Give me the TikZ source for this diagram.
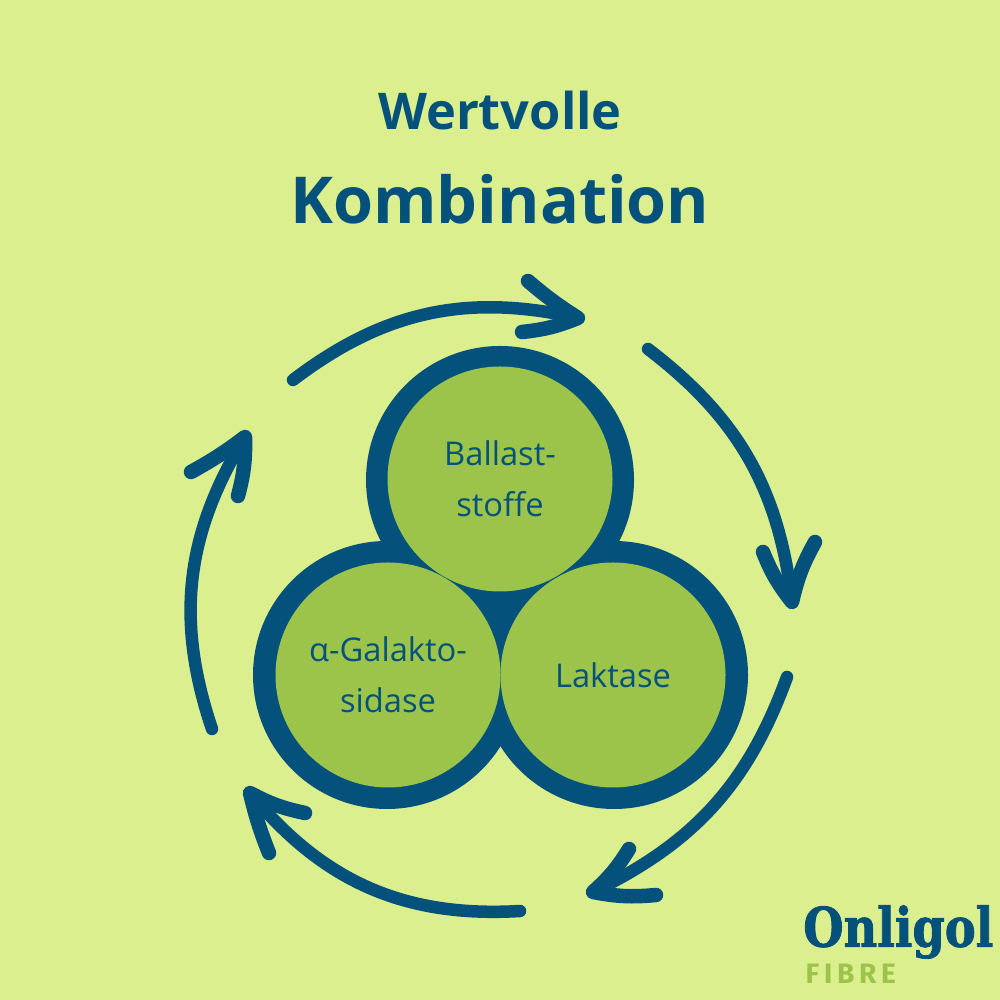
\documentclass[tikz,border=0pt]{standalone}
\usepackage{fontspec}
\setmainfont{Open Sans}
\newfontfamily\logofont[FakeStretch=0.85,BoldFeatures={FakeBold=1.5}]{DejaVu Serif}
\newfontfamily\fibrefont{Fira Sans}
\definecolor{paleback}{HTML}{DCEF8F}
\definecolor{deepblue}{HTML}{04527C}
\definecolor{leafgreen}{HTML}{9DC44A}
\tikzset{
  ringdisc/.style={circle,fill=deepblue,minimum size=2.68cm,inner sep=0pt},
  leafdisc/.style={circle,fill=leafgreen,minimum size=2.25cm,inner sep=0pt,align=center,
    text=deepblue,font=\fontsize{9.3}{14.4}\selectfont},
  roundarrow/.style={draw=deepblue,line width=0.125cm,line cap=round,line join=round},
  roundhead/.style={roundarrow,line width=0.145cm},
  titletext/.style={text=deepblue,font=\bfseries}
}
\begin{document}
\begin{tikzpicture}
\useasboundingbox (0,0) rectangle (10,10);
\fill [paleback] (0,0) rectangle (10,10);

% Drawing title
\node [titletext,font=\fontsize{14.4}{16}\selectfont\bfseries] (wertvolle) at (5.00,8.89) {Wertvolle};
\node [titletext,font=\fontsize{18.4}{24}\selectfont\bfseries] (kombination) at (5.00,8.01) {Kombination};

% Drawing blue rings
\node [ringdisc] (ringtop) at (5.00,5.20) {};
\node [ringdisc] (ringleft) at (3.87,3.25) {};
\node [ringdisc] (ringright) at (6.14,3.25) {};

% Drawing green circles
\node [leafdisc] (ballast) at (5.00,5.21) {Ballast-\\stoffe};
\node [leafdisc] (galakto) at (3.88,3.25) {α-Galakto-\\sidase};
\node [leafdisc] (laktase) at (6.13,3.25) {Laktase};

% Drawing arrow top
\coordinate (atail) at (2.93,6.20);
\coordinate (atip) at (5.78,6.82);
\coordinate (abarbone) at (5.28,7.19);
\coordinate (abarbtwo) at (5.22,6.68);
\draw [roundarrow] (atail) to [bend left=25] (atip);
\draw [roundhead] (abarbone) to [bend right=4] (atip) to [bend left=8] (abarbtwo);

% Drawing arrow right
\coordinate (btail) at (6.48,6.51);
\coordinate (btip) at (7.92,3.98);
\coordinate (bbarbone) at (8.15,4.58);
\coordinate (bbarbtwo) at (7.63,4.48);
\draw [roundarrow] (btail) to [bend left=23] (btip);
\draw [roundhead] (bbarbone) to [bend right=8] (btip) to [bend left=8] (bbarbtwo);

% Drawing arrow bottom right
\coordinate (ctail) at (7.87,3.23);
\coordinate (ctip) at (5.93,1.08);
\coordinate (cbarbone) at (6.29,1.51);
\coordinate (cbarbtwo) at (6.56,1.05);
\draw [roundarrow] (ctail) to [bend left=22] (ctip);
\draw [roundhead] (cbarbone) to [bend left=8] (ctip) to [bend right=8] (cbarbtwo);

% Drawing arrow bottom left
\coordinate (dtail) at (5.20,0.89);
\coordinate (dtip) at (2.50,2.07);
\coordinate (dbarbone) at (3.05,1.87);
\coordinate (dbarbtwo) at (2.69,1.47);
\draw [roundarrow] (dtail) to [bend left=27] (dtip);
\draw [roundhead] (dbarbone) to [bend left=8] (dtip) to [bend right=4] (dbarbtwo);

% Drawing arrow left
\coordinate (etail) at (2.12,2.71);
\coordinate (etip) at (2.45,5.63);
\coordinate (ebarbone) at (1.91,5.28);
\coordinate (ebarbtwo) at (2.38,5.04);
\draw [roundarrow] (etail) to [bend left=25] (etip);
\draw [roundhead] (ebarbone) to [bend right=4] (etip) to [bend left=8] (ebarbtwo);

% Drawing logo
\node [text=deepblue,font=\logofont\bfseries\fontsize{15.5}{18}\selectfont,anchor=east,inner sep=0pt] (onligol) at (9.94,0.68) {Onligol};
\node [text=leafgreen,font=\fibrefont\bfseries\fontsize{8}{10}\selectfont,anchor=west,inner sep=0pt] (fibre) at (8.05,0.26) {F\,I\,B\,R\,E};
\end{tikzpicture}
\end{document}
